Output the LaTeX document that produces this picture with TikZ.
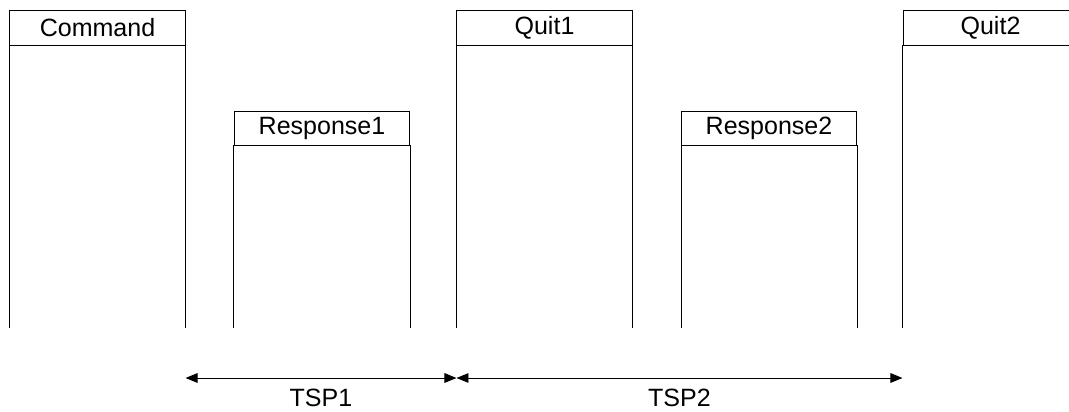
\documentclass[tikz,border=0pt]{standalone}
\usepackage{fontspec}
\setmainfont{Liberation Sans}
\usepackage{tikz}
\usetikzlibrary{arrows.meta, positioning, calc}

\begin{document}
\begin{tikzpicture}[
    x=0.025cm, y=-0.025cm,
    head/.style={draw, line width=0.7pt, minimum width=4.375cm, minimum height=0.85cm, inner sep=0pt, font=\fontsize{17.8}{21}\selectfont},
    wall/.style={line width=0.7pt},
    span/.style={{Triangle[length=0.3cm,width=0.24cm]}-{Triangle[length=0.3cm,width=0.24cm]}, line width=0.7pt},
    lbl/.style={font=\fontsize{17.8}{21}\selectfont}
]
\clip (0,0) rectangle (1069,412);

% Headers
\node[head] (cmd) at (97.5,28) {Command};
\node[head] (resp1) at (322,128) {Response1};
\node[head] (quit1) at (544.5,28) {Quit1};
\node[head] (resp2) at (769,128) {Response2};
\node[head] (quit2) at (990.5,28) {Quit2};

% Bottom of the columns
\coordinate (base) at (0,328);

% Columns
\foreach \n in {cmd, resp1, quit1, resp2, quit2} {
  \draw[wall] (\n.south west) -- (\n.south west |- base);
  \draw[wall] (\n.south east) -- (\n.south east |- base);
}

% Time spans
\coordinate (row) at (0,378);
\draw[span] (cmd.east |- row) -- node[lbl, below=4pt] {TSP1} (quit1.west |- row);
\draw[span] (quit1.west |- row) -- node[lbl, below=4pt] {TSP2} (quit2.west |- row);

\end{tikzpicture}
\end{document}
